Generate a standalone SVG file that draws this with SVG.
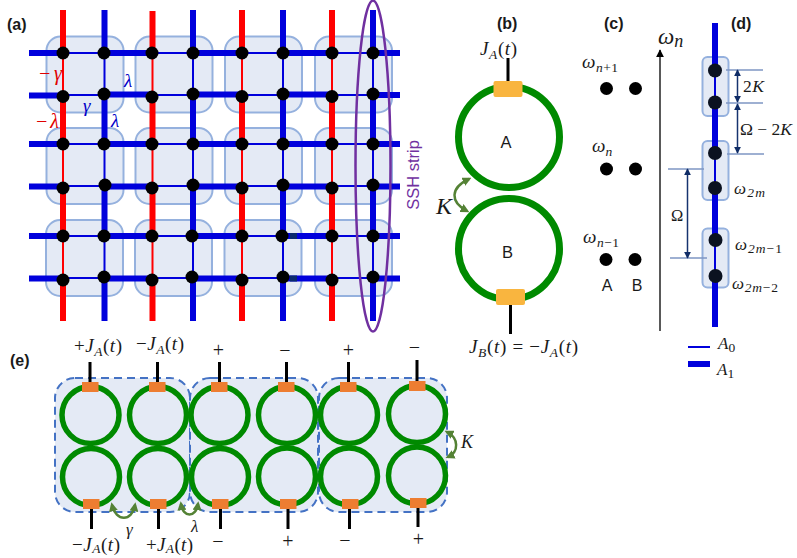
<svg xmlns="http://www.w3.org/2000/svg" width="797" height="558" viewBox="0 0 797 558">
<style>
text{font-family:"Liberation Sans",Arial,sans-serif;fill:#1a1a1a}
.h{font-weight:bold;font-size:16px}
.s{font-size:16.5px}
.m{font-family:"Liberation Serif","DejaVu Serif",serif;font-size:19px}
.i{font-style:italic}
.b{font-size:13.5px}
.c{text-anchor:middle}
.cell{fill:#E4EAF5;stroke:#95B1DE;stroke-width:2}
.dot{fill:#000}
.dd{fill:#0B1220}
.tb{fill:none;stroke:#0000DC;stroke-width:6}
.nb{fill:none;stroke:#0000DC;stroke-width:2}
.tr{fill:none;stroke:#FF0000;stroke-width:6}
.nr{fill:none;stroke:#FF0000;stroke-width:2}
.ring{fill:none;stroke:#008A00}
.pad{fill:#F9B53F}
.op{fill:#ED7D31}
.blk{fill:none;stroke:#000;stroke-width:3}
.grp{fill:#E4EAF5;stroke:#4472C4;stroke-width:2;stroke-dasharray:8 5}
.cur{fill:none;stroke:#548235;stroke-width:2.5;marker-start:url(#ga);marker-end:url(#ga)}
.dim{fill:none;stroke:#16336F;stroke-width:1.5;marker-start:url(#na);marker-end:url(#na)}
.tick{fill:none;stroke:#7F97C4;stroke-width:1.5}
</style>
<defs>
<marker id="ga" viewBox="0 0 10 10" refX="7" refY="5" markerUnits="userSpaceOnUse" markerWidth="9" markerHeight="9" orient="auto-start-reverse"><path d="M0 0L10 5L0 10Z" fill="#548235"/></marker>
<marker id="na" viewBox="0 0 10 10" refX="9" refY="5" markerUnits="userSpaceOnUse" markerWidth="7" markerHeight="7" orient="auto-start-reverse"><path d="M0 0L10 5L0 10Z" fill="#0F2C66"/></marker>
<marker id="ka" viewBox="0 0 10 10" refX="9" refY="5" markerUnits="userSpaceOnUse" markerWidth="8" markerHeight="8" orient="auto"><path d="M0 0L10 5L0 10Z" fill="#000"/></marker>
</defs>
<rect width="797" height="558" fill="#fff"/>

<text class="h" x="7" y="30">(a)</text>
<text class="h" x="497" y="29">(b)</text>
<text class="h" x="604" y="29">(c)</text>
<text class="h" x="731" y="29">(d)</text>
<text class="h" x="10" y="366">(e)</text>

<g id="panel-a-cells">
<g id="cell-a1"><rect class="cell" x="46.5" y="36.5" width="77" height="76" rx="14"/></g>
<g id="cell-a2"><rect class="cell" x="135.5" y="36.5" width="77" height="76" rx="14"/></g>
<g id="cell-a3"><rect class="cell" x="225" y="36.5" width="77" height="76" rx="14"/></g>
<g id="cell-a4"><rect class="cell" x="315" y="36.5" width="77" height="76" rx="14"/></g>
<g id="cell-a5"><rect class="cell" x="46.5" y="128" width="77" height="76" rx="14"/></g>
<g id="cell-a6"><rect class="cell" x="135.5" y="128" width="77" height="76" rx="14"/></g>
<g id="cell-a7"><rect class="cell" x="225" y="128" width="77" height="76" rx="14"/></g>
<g id="cell-a8"><rect class="cell" x="315" y="128" width="77" height="76" rx="14"/></g>
<g id="cell-a9"><rect class="cell" x="46" y="220" width="77" height="76" rx="14"/></g>
<g id="cell-a10"><rect class="cell" x="135" y="220" width="77" height="76" rx="14"/></g>
<g id="cell-a11"><rect class="cell" x="224.500" y="220" width="77" height="76" rx="14"/></g>
<g id="cell-a12"><rect class="cell" x="315" y="220" width="77" height="76" rx="14"/></g>
</g>

<g id="connectors-a">
<path class="tr" d="M63 10V53M63 95V144M63 187V236M63 279V321M152.500 11V53M152.500 95V144M152.500 187V236M152.500 279V321M242 10V53M242 95V144M242 187V236M242 279V321M332 10V53M332 95V144M332 187V236M332 279V321"/>
<path class="nr" d="M63 53V95M63 144V187M63 236V279M152.500 53V95M152.500 144V187M152.500 236V279M242 53V95M242 144V187M242 236V279M332 53V95M332 144V187M332 236V279"/>
<path class="tb" d="M104.500 10V53M104.500 95V144M104.500 187V236M104.500 279V321M193 10V53M193 95V144M193 187V236M193 279V321M283 10V53M283 95V144M283 187V236M283 279V321M373 10V53M373 95V144M373 187V236M373 279V321"/>
<path class="nb" d="M104.500 53V95M104.500 144V187M104.500 236V279M193 53V95M193 144V187M193 236V279M283 53V95M283 144V187M283 236V279M373 53V95M373 144V187M373 236V279"/>
<path class="tb" d="M29 53H63M104 53H152M193 53H242M283 53H332M373 53H400M29 95.500H63M104 94.500H152M193 94.500H242M283 94.500H332M373 95H400M29 144H63M104 144H152M193 144H242M283 144H332M373 144H400M29 186.500H63M104 186.500H152M193 186.500H242M283 186.500H332M373 186.500H400M29 236H63M104 236H152M193 236H242M283 236H332M373 236H400M29 278.500H63M104 278.500H152M193 278.500H242M283 278.500H332M373 278.500H400"/>
<path class="nb" d="M63 53H104M152 53H193M242 53H283M332 53H373M63 95H104M152 95H193M242 95H283M332 95H373M63 144H104M152 144H193M242 144H283M332 144H373M63 186H104M152 186H193M242 186H283M332 186H373M63 236H104M152 236H193M242 236H283M332 236H373M63 278H104M152 278H193M242 278H283M332 278H373"/>
<path fill="none" stroke="#0A2A6E" stroke-width="6" d="M290 236H297M290 278.500H297"/>
</g>

<g id="sites-a">
<g id="s11"><circle class="dot" cx="63" cy="53" r="6.500"/></g><g id="s12"><circle class="dot" cx="104" cy="53" r="6.500"/></g><g id="s13"><circle class="dot" cx="152" cy="53" r="6.500"/></g><g id="s14"><circle class="dot" cx="193" cy="53" r="6.500"/></g><g id="s15"><circle class="dot" cx="242" cy="53" r="6.500"/></g><g id="s16"><circle class="dot" cx="283" cy="53" r="6.500"/></g><g id="s17"><circle class="dot" cx="332" cy="53" r="6.500"/></g><g id="s18"><circle class="dot" cx="373" cy="53" r="6.500"/></g>
<g id="s21"><circle class="dot" cx="63" cy="96.500" r="6.500"/></g><g id="s22"><circle class="dot" cx="104" cy="94" r="6.500"/></g><g id="s23"><circle class="dot" cx="152" cy="97" r="6.500"/></g><g id="s24"><circle class="dot" cx="193" cy="94" r="6.500"/></g><g id="s25"><circle class="dot" cx="242" cy="96.500" r="6.500"/></g><g id="s26"><circle class="dot" cx="283" cy="94" r="6.500"/></g><g id="s27"><circle class="dot" cx="332" cy="96.500" r="6.500"/></g><g id="s28"><circle class="dot" cx="373" cy="94" r="6.500"/></g>
<g id="s31"><circle class="dot" cx="63" cy="144" r="6.500"/></g><g id="s32"><circle class="dot" cx="104" cy="144" r="6.500"/></g><g id="s33"><circle class="dot" cx="152" cy="144" r="6.500"/></g><g id="s34"><circle class="dot" cx="193" cy="144" r="6.500"/></g><g id="s35"><circle class="dot" cx="242" cy="144" r="6.500"/></g><g id="s36"><circle class="dot" cx="283" cy="144" r="6.500"/></g><g id="s37"><circle class="dot" cx="332" cy="144" r="6.500"/></g><g id="s38"><circle class="dot" cx="373" cy="144" r="6.500"/></g>
<g id="s41"><circle class="dot" cx="63" cy="188" r="6.500"/></g><g id="s42"><circle class="dot" cx="105" cy="185" r="6.500"/></g><g id="s43"><circle class="dot" cx="152" cy="188" r="6.500"/></g><g id="s44"><circle class="dot" cx="193" cy="185" r="6.500"/></g><g id="s45"><circle class="dot" cx="242" cy="188" r="6.500"/></g><g id="s46"><circle class="dot" cx="283" cy="185" r="6.500"/></g><g id="s47"><circle class="dot" cx="332" cy="188" r="6.500"/></g><g id="s48"><circle class="dot" cx="373" cy="185" r="6.500"/></g>
<g id="s51"><circle class="dot" cx="63" cy="236" r="6.500"/></g><g id="s52"><circle class="dot" cx="104" cy="236" r="6.500"/></g><g id="s53"><circle class="dot" cx="152" cy="236" r="6.500"/></g><g id="s54"><circle class="dot" cx="192" cy="236" r="6.500"/></g><g id="s55"><circle class="dot" cx="242" cy="236" r="6.500"/></g><g id="s56"><circle class="dot" cx="282" cy="236" r="6.500"/></g><g id="s57"><circle class="dot" cx="332" cy="236" r="6.500"/></g><g id="s58"><circle class="dot" cx="373" cy="236" r="6.500"/></g>
<g id="s61"><circle class="dot" cx="63" cy="280" r="6.500"/></g><g id="s62"><circle class="dot" cx="104" cy="277" r="6.500"/></g><g id="s63"><circle class="dot" cx="152" cy="280" r="6.500"/></g><g id="s64"><circle class="dot" cx="192" cy="277" r="6.500"/></g><g id="s65"><circle class="dot" cx="242" cy="280" r="6.500"/></g><g id="s66"><circle class="dot" cx="283" cy="277" r="6.500"/></g><g id="s67"><circle class="dot" cx="332" cy="280" r="6.500"/></g><g id="s68"><circle class="dot" cx="373" cy="277" r="6.500"/></g>
</g>

<g id="ssh-strip">
<ellipse cx="373" cy="166" rx="17.500" ry="165.500" fill="none" stroke="#7030A0" stroke-width="2.500"/>
<text x="413" y="175" class="c" font-size="16.500" style="fill:#7030A0" transform="rotate(-90 413 175)" dy="6">SSH strip</text>
</g>

<g id="labels-a">
<text class="m i" x="38" y="80" textLength="24" style="fill:#E00000;font-size:20px">−γ</text>
<text class="m i" x="35" y="128" textLength="24" style="fill:#E00000;font-size:20px">−λ</text>
<text class="m i" x="124" y="87" style="fill:#0000C8;font-size:19px">λ</text>
<text class="m i" x="83" y="112" style="fill:#0000C8;font-size:19px">γ</text>
<text class="m i" x="111" y="127" style="fill:#0000C8;font-size:19px">λ</text>
</g>

<g id="panel-b">
<g id="ring-A"><circle class="ring" cx="509" cy="137" r="50.500" stroke-width="7"/><text class="s c" x="506" y="148">A</text></g>
<g id="ring-B"><circle class="ring" cx="509" cy="249" r="50.500" stroke-width="7"/><text class="s c" x="507.500" y="258">B</text></g>
<g id="coupler-A"><rect class="pad" x="493.500" y="81" width="29" height="16" rx="2"/></g>
<g id="coupler-B"><rect class="pad" x="496" y="289" width="29" height="16" rx="2"/></g>
<path class="blk" d="M508 58V81M510.500 305V334"/>
<path class="cur" d="M469 179C450 188 450 202 467 211"/>
<text class="m i" x="436" y="214" style="font-size:24px">K</text>
<text class="m" x="480" y="55" textLength="37"><tspan class="i">J</tspan><tspan class="i b" dy="4">A</tspan><tspan dy="-4">(</tspan><tspan class="i">t</tspan>)</text>
<text class="m" x="469" y="353" textLength="109"><tspan class="i">J</tspan><tspan class="i b" dy="4">B</tspan><tspan dy="-4">(</tspan><tspan class="i">t</tspan>) = −<tspan class="i">J</tspan><tspan class="i b" dy="4">A</tspan><tspan dy="-4">(</tspan><tspan class="i">t</tspan>)</text>
</g>

<g id="panel-c">
<g id="c1a"><circle class="dot" cx="606.500" cy="88.500" r="6.500"/></g>
<g id="c1b"><circle class="dot" cx="635.500" cy="88.500" r="6.500"/></g>
<g id="c2a"><circle class="dot" cx="606.500" cy="169" r="6.500"/></g>
<g id="c2b"><circle class="dot" cx="635.500" cy="169" r="6.500"/></g>
<g id="c3a"><circle class="dot" cx="606" cy="259.500" r="6.500"/></g>
<g id="c3b"><circle class="dot" cx="635" cy="259.500" r="6.500"/></g>
<text class="m" x="582" y="68" textLength="36"><tspan class="i">ω</tspan><tspan class="i b" dy="4">n</tspan><tspan class="b">+1</tspan></text>
<text class="m" x="592" y="152"><tspan class="i">ω</tspan><tspan class="i b" dy="4">n</tspan></text>
<text class="m" x="583" y="243" textLength="36"><tspan class="i">ω</tspan><tspan class="i b" dy="4">n</tspan><tspan class="b">−1</tspan></text>
<text class="s c" x="607" y="291" style="font-size:16px">A</text>
<text class="s c" x="637" y="291" style="font-size:16px">B</text>
<path d="M660 331L660 50" fill="none" stroke="#222" stroke-width="1.500" marker-end="url(#ka)"/>
<text class="m" x="658" y="44" style="font-size:23px"><tspan class="i">ω</tspan><tspan class="i" style="font-size:18px" dy="3">n</tspan></text>
</g>

<g id="panel-d">
<g id="d-cell1"><rect class="cell" x="702.500" y="57" width="26" height="59" rx="5"/></g>
<g id="d-cell2"><rect class="cell" x="702.500" y="141" width="26" height="59" rx="5"/></g>
<g id="d-cell3"><rect class="cell" x="702.500" y="228.500" width="26" height="59" rx="5"/></g>
<path class="tb" d="M715 23V70M715 102V153M715 188V240M715 276V327"/>
<path class="nb" d="M715 70V102M715 153V188M715 240V276"/>
<g id="d1"><circle class="dd" cx="715" cy="70.500" r="7"/></g>
<g id="d2"><circle class="dd" cx="715" cy="102.500" r="7"/></g>
<g id="d3"><circle class="dd" cx="715" cy="153" r="7"/></g>
<g id="d4"><circle class="dd" cx="715" cy="188" r="7"/></g>
<g id="d5"><circle class="dd" cx="715.500" cy="240" r="7"/></g>
<g id="d6"><circle class="dd" cx="715.500" cy="276" r="7"/></g>
<path class="tick" d="M726 70H763M726 103H763M727 154H764M668 169H704M670 258H707"/>
<path class="dim" d="M737.500 70V102"/>
<path class="dim" d="M737.500 104V153"/>
<path class="dim" d="M687.500 169V258"/>
<text class="m" x="743" y="92" textLength="21" style="font-size:17.500px">2<tspan class="i">K</tspan></text>
<text class="m" x="740" y="135" textLength="52" style="font-size:17.500px">Ω − 2<tspan class="i">K</tspan></text>
<text class="m" x="671" y="221" style="font-size:16.500px">Ω</text>
<text class="m" x="734" y="194" textLength="31" style="font-size:17px"><tspan class="i">ω</tspan><tspan class="b" dy="3"><tspan class="i">2m</tspan></tspan></text>
<text class="m" x="735" y="250" textLength="47" style="font-size:17px"><tspan class="i">ω</tspan><tspan class="b" dy="3"><tspan class="i">2m</tspan>−1</tspan></text>
<text class="m" x="732" y="289" textLength="46" style="font-size:17px"><tspan class="i">ω</tspan><tspan class="b" dy="3"><tspan class="i">2m</tspan>−2</tspan></text>
<path class="nb" d="M688 347H710"/>
<path class="tb" d="M688 364H710"/>
<text class="m" x="718" y="349" style="font-size:17px"><tspan class="i">A</tspan><tspan class="b" dy="3">0</tspan></text>
<text class="m" x="717" y="375" style="font-size:17px"><tspan class="i">A</tspan><tspan class="b" dy="3">1</tspan></text>
</g>

<g id="panel-e">
<g id="group-e1"><rect class="grp" x="55" y="378" width="135" height="134" rx="20"/></g>
<g id="group-e2"><rect class="grp" x="190" y="378" width="128" height="134" rx="20"/></g>
<g id="group-e3"><rect class="grp" x="319" y="378" width="128" height="134" rx="20"/></g>
<g id="e-r1"><circle class="ring" cx="90.500" cy="415" r="28.500" stroke-width="5.500"/></g>
<g id="e-r2"><circle class="ring" cx="91" cy="477" r="28.500" stroke-width="5.500"/></g>
<g id="e-r3"><circle class="ring" cx="158" cy="415" r="28.500" stroke-width="5.500"/></g>
<g id="e-r4"><circle class="ring" cx="158" cy="477" r="28.500" stroke-width="5.500"/></g>
<g id="e-r5"><circle class="ring" cx="219.500" cy="415" r="28.500" stroke-width="5.500"/></g>
<g id="e-r6"><circle class="ring" cx="220" cy="477" r="28.500" stroke-width="5.500"/></g>
<g id="e-r7"><circle class="ring" cx="287" cy="415" r="28.500" stroke-width="5.500"/></g>
<g id="e-r8"><circle class="ring" cx="287" cy="476.500" r="28.500" stroke-width="5.500"/></g>
<g id="e-r9"><circle class="ring" cx="349" cy="415" r="28.500" stroke-width="5.500"/></g>
<g id="e-r10"><circle class="ring" cx="349" cy="476.500" r="28.500" stroke-width="5.500"/></g>
<g id="e-r11"><circle class="ring" cx="417" cy="414" r="28.500" stroke-width="5.500"/></g>
<g id="e-r12"><circle class="ring" cx="417" cy="475.500" r="28.500" stroke-width="5.500"/></g>
<g id="e-pads">
<rect class="op" x="82" y="382" width="16.500" height="10"/><rect class="op" x="149" y="382" width="16.500" height="10"/><rect class="op" x="211" y="382" width="16.500" height="10"/><rect class="op" x="278" y="382" width="16.500" height="10"/><rect class="op" x="340" y="382" width="16.500" height="10"/><rect class="op" x="409" y="381" width="16.500" height="10"/>
<rect class="op" x="83" y="499" width="16.500" height="10"/><rect class="op" x="150" y="499" width="16.500" height="10"/><rect class="op" x="212" y="499" width="16.500" height="10"/><rect class="op" x="280" y="499" width="16.500" height="10"/><rect class="op" x="342" y="499" width="16.500" height="10"/><rect class="op" x="410" y="498" width="16.500" height="10"/>
</g>
<path class="blk" d="M90 362V382M157.500 362V382M219.500 362V382M286.500 362V382M348.500 362V382M417 360V381M91.500 509V529M158.500 509V529M220.500 509V529M288 509V529M349.500 509V529M418 508V527"/>
<path class="cur" d="M112 505C116 522 132 522 135 505"/>
<path class="cur" d="M181 504C183 518 196 518 198 504"/>
<path class="cur" d="M447 432C459 438 459 452 448 457"/>
<text class="m" x="74" y="352" textLength="48"><tspan>+</tspan><tspan class="i">J</tspan><tspan class="i b" dy="4">A</tspan><tspan dy="-4">(</tspan><tspan class="i">t</tspan>)</text>
<text class="m" x="136" y="350" textLength="48"><tspan>−</tspan><tspan class="i">J</tspan><tspan class="i b" dy="4">A</tspan><tspan dy="-4">(</tspan><tspan class="i">t</tspan>)</text>
<text class="m" x="72" y="551" textLength="48"><tspan>−</tspan><tspan class="i">J</tspan><tspan class="i b" dy="2">A</tspan><tspan dy="-2">(</tspan><tspan class="i">t</tspan>)</text>
<text class="m" x="146" y="551" textLength="47"><tspan>+</tspan><tspan class="i">J</tspan><tspan class="i b" dy="2">A</tspan><tspan dy="-2">(</tspan><tspan class="i">t</tspan>)</text>
<text class="m c" x="218.500" y="357" style="font-size:20px">+</text>
<text class="m c" x="285" y="357" style="font-size:20px">−</text>
<text class="m c" x="348.500" y="357" style="font-size:20px">+</text>
<text class="m c" x="414.500" y="354" style="font-size:20px">−</text>
<text class="m c" x="218" y="548" style="font-size:20px">−</text>
<text class="m c" x="288" y="548" style="font-size:20px">+</text>
<text class="m c" x="345" y="547" style="font-size:20px">−</text>
<text class="m c" x="418.500" y="546" style="font-size:20px">+</text>
<text class="m i" x="126" y="535" style="font-size:17px">γ</text>
<text class="m i" x="191" y="532" style="font-size:17px">λ</text>
<text class="m i" x="461" y="448" style="font-size:18px">K</text>
</g>
</svg>
